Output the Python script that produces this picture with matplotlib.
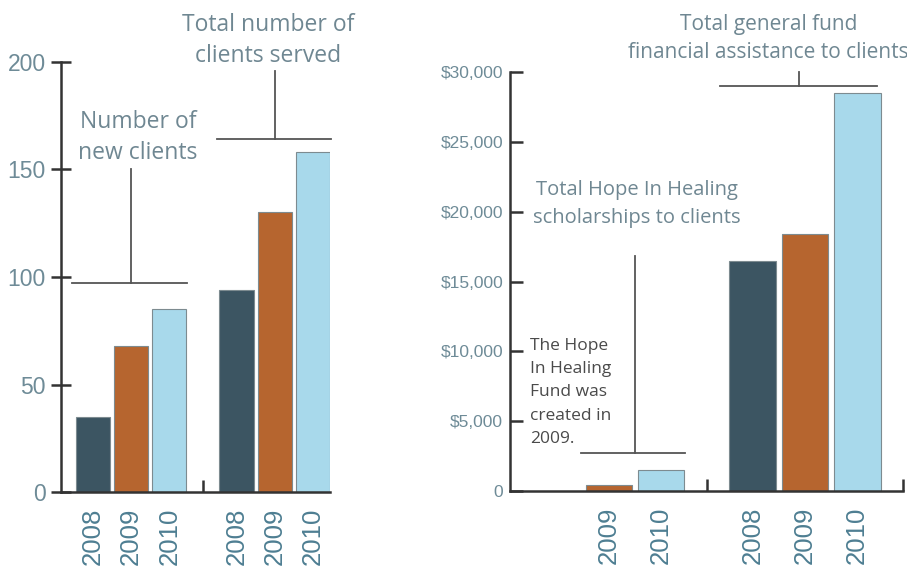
import numpy as np
import matplotlib
matplotlib.use("Agg")
import matplotlib.pyplot as plt
from matplotlib import font_manager

# data
years = ["2008", "2009", "2010"]
new_clients = [35, 68, 85]
total_clients = [94, 130, 158]
hope_scholarships = [np.nan, 400, 1500]   # fund created in 2009
general_fund = [16500, 18400, 28500]

left_ticks = [0, 50, 100, 150, 200]
right_ticks = [0, 5000, 10000, 15000, 20000, 25000, 30000]
right_tick_labels = ["0", "$5,000", "$10,000", "$15,000", "$20,000", "$25,000", "$30,000"]

bar_colors = ["#3c5562", "#b6652f", "#a8d9eb"]
note_color = "#6f8792"
tick_color = "#6e8b97"
year_color = "#4e7e92"

installed = {f.name for f in font_manager.fontManager.ttflist}
narrow = next((f for f in ["Liberation Sans Narrow", "DejaVu Sans Condensed", "Liberation Sans"]
               if f in installed), "DejaVu Sans")
note_font = "Open Sans" if "Open Sans" in installed else "DejaVu Sans"

# group layout: three bars, a gap, three bars
first = np.arange(3)
second = np.arange(3) + 3.75
width = 0.89


def draw_group(ax, xs, values):
    for x, v, c in zip(xs, values, bar_colors):
        if np.isnan(v):
            continue
        ax.bar(x, v, width=width, color=c, edgecolor="#7d8b90", linewidth=0.8)


def setup_axis(ax, xs_labels, labels):
    for s in ["top", "right"]:
        ax.spines[s].set_visible(False)
    for s in ["left", "bottom"]:
        ax.spines[s].set_linewidth(1.8)
        ax.spines[s].set_color("#333333")
    ax.set_xticks(xs_labels, labels)
    ax.tick_params(axis="x", length=0, pad=11, labelsize=18.5, labelcolor=year_color,
                   labelrotation=90)
    for t in ax.get_xticklabels():
        t.set_family("Liberation Sans")


def bracket(ax, x0, x1, y, xv, ytop):
    ax.plot([x0, x1], [y, y], color="#555555", lw=1.3, clip_on=False)
    ax.plot([xv, xv], [y, ytop], color="#555555", lw=1.3, clip_on=False)


fig = plt.figure(figsize=(9.07, 5.71), dpi=100)

# ---- left chart: clients
ax1 = fig.add_axes([61 / 907, 79 / 571, 269 / 907, 430 / 571])
draw_group(ax1, first, new_clients)
draw_group(ax1, second, total_clients)
ax1.set_xlim(-0.83, 6.19)
ax1.set_ylim(0, 200)
setup_axis(ax1, list(first) + list(second), years + years)
ax1.set_xticks([2.875], minor=True)
ax1.tick_params(axis="x", which="minor", direction="in", length=9, width=1.8, color="#333333")
ax1.set_yticks(left_ticks)
ax1.tick_params(axis="y", direction="inout", length=14, width=1.8, color="#333333",
                labelsize=16.5, labelcolor=tick_color, pad=4)
for t in ax1.get_yticklabels():
    t.set_family("Liberation Sans")

bracket(ax1, -0.54, 2.46, 97, 1.0, 150)
ax1.text(1.18, 165, "Number of\nnew clients", ha="center", va="center", fontsize=16.5,
         color=note_color, family=note_font, linespacing=1.4, clip_on=False)
bracket(ax1, 3.24, 6.22, 164, 4.75, 196)
ax1.text(4.57, 210, "Total number of\nclients served", ha="center", va="center", fontsize=16.5,
         color=note_color, family=note_font, linespacing=1.4, clip_on=False)

# ---- right chart: dollars
ax2 = fig.add_axes([510 / 907, 80 / 571, 393 / 907, 419 / 571])
draw_group(ax2, first, hope_scholarships)
draw_group(ax2, second, general_fund)
ax2.set_xlim(-0.89, 6.625)
ax2.set_ylim(0, 30000)
hope_x = [x for x, v in zip(first, hope_scholarships) if not np.isnan(v)]
hope_lbl = [y for y, v in zip(years, hope_scholarships) if not np.isnan(v)]
setup_axis(ax2, hope_x + list(second), hope_lbl + years)
ax2.set_xticks([2.875, 6.625], minor=True)
ax2.tick_params(axis="x", which="minor", direction="in", length=9, width=1.8, color="#333333")
ax2.set_yticks(right_ticks, right_tick_labels)
ax2.tick_params(axis="y", direction="in", length=9, width=1.8, color="#333333",
                labelsize=12.5, labelcolor=tick_color, pad=5)
for t in ax2.get_yticklabels():
    t.set_family(narrow)

bracket(ax2, 0.47, 2.46, 2720, 1.5, 16800)
ax2.text(1.54, 20550, "Total Hope In Healing\nscholarships to clients", ha="center", va="center",
         fontsize=14.5, color=note_color, family=note_font, linespacing=1.5, clip_on=False)
ax2.text(-0.51, 10950, "The Hope\nIn Healing\nFund was\ncreated in\n2009.", ha="left", va="top",
         fontsize=12.5, color="#4a4a4a", family=note_font, linespacing=1.6, clip_on=False)
bracket(ax2, 3.13, 6.13, 29000, 4.64, 30000)
ax2.text(4.05, 32400, "Total general fund\nfinancial assistance to clients", ha="center",
         va="center", fontsize=15, color=note_color, family=note_font, linespacing=1.48,
         clip_on=False)

fig.savefig("out.png", dpi=100)
